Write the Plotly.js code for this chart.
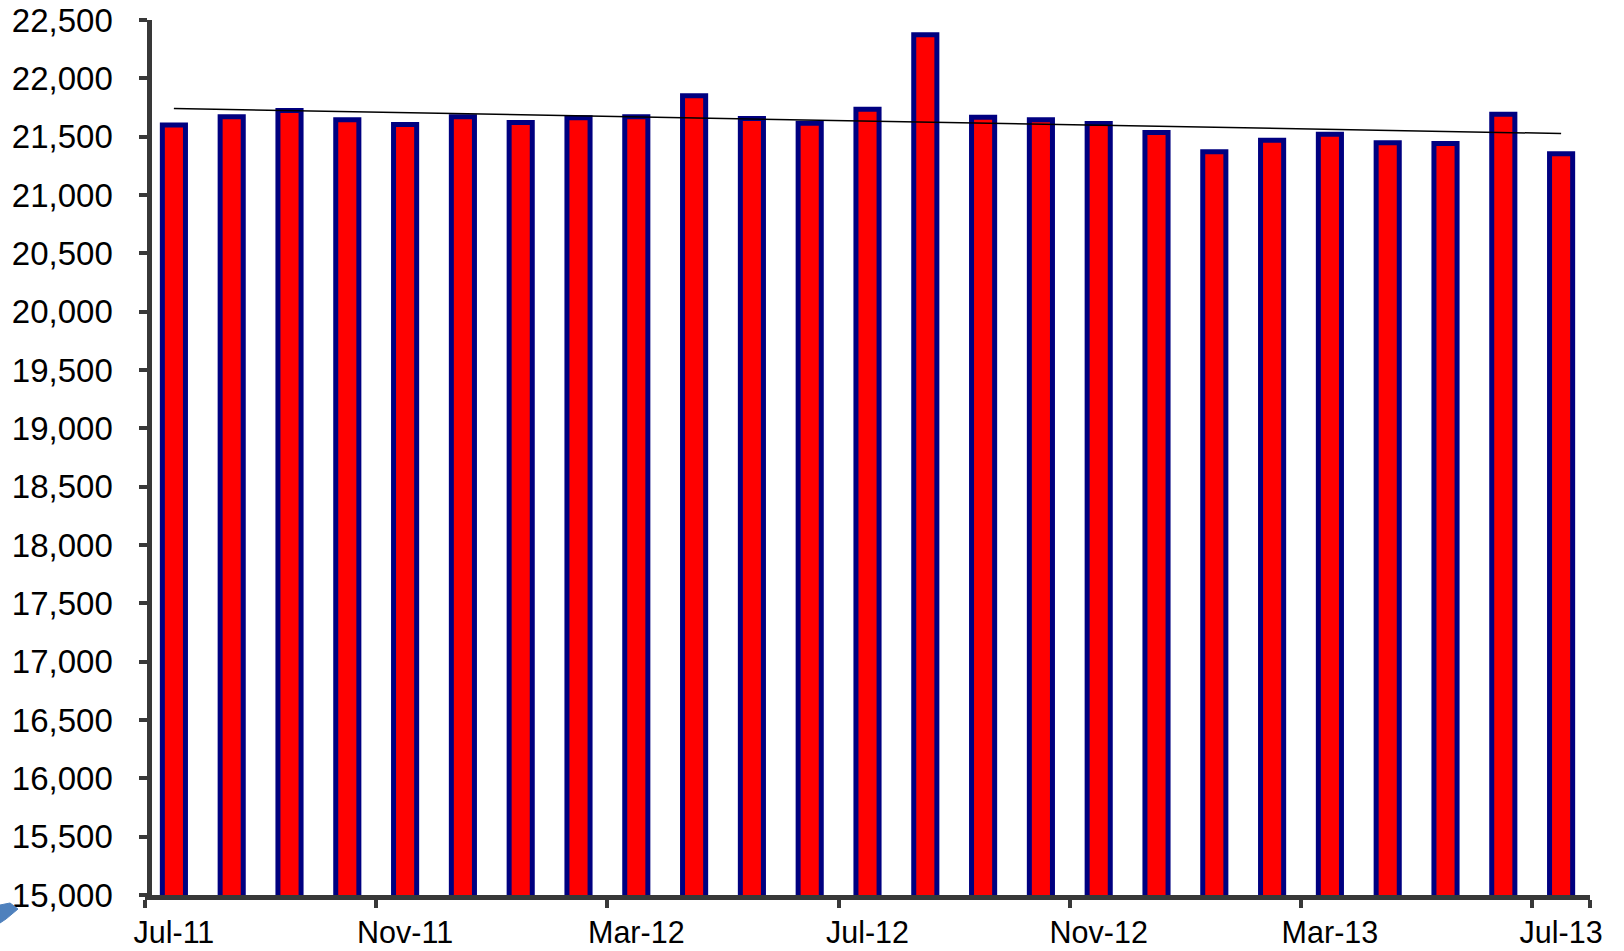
<!DOCTYPE html>
<html>
<head>
<meta charset="utf-8">
<script src="https://cdn.plot.ly/plotly-3.0.1.min.js"></script>
<style>
  html, body { margin: 0; padding: 0; background: #ffffff; }
  #chart { width: 1624px; height: 951px; }
</style>
</head>
<body>
<div id="chart"></div>
<script>
const months = ["Jul-11","Aug-11","Sep-11","Oct-11","Nov-11","Dec-11","Jan-12","Feb-12","Mar-12","Apr-12","May-12","Jun-12","Jul-12","Aug-12","Sep-12","Oct-12","Nov-12","Dec-12","Jan-13","Feb-13","Mar-13","Apr-13","May-13","Jun-13","Jul-13"];
const values = [21600,21670,21724,21644,21604,21670,21621,21662,21670,21850,21656,21615,21735,22373,21667,21644,21613,21535,21370,21470,21521,21447,21441,21692,21353];
const tickLabels = ["Jul-11","Nov-11","Mar-12","Jul-12","Nov-12","Mar-13","Jul-13"];
const yTicks = [15000,15500,16000,16500,17000,17500,18000,18500,19000,19500,20000,20500,21000,21500,22000,22500];

// Linear (least-squares) trendline fitted to the series, as in the original chart
const n = values.length;
const idx = values.map((_, i) => i);
const mx = idx.reduce((a, b) => a + b, 0) / n;
const my = values.reduce((a, b) => a + b, 0) / n;
let sxy = 0, sxx = 0;
for (let i = 0; i < n; i++) { sxy += (i - mx) * (values[i] - my); sxx += (i - mx) * (i - mx); }
const slope = sxy / sxx;
const trendY = [my + slope * (0 - mx), my + slope * (n - 1 - mx)];
const trendX = [months[0], months[n - 1]];

const font = "Liberation Sans, Arial, sans-serif";

const data = [
  {
    type: "bar",
    x: months,
    y: values,
    width: 0.4,
    marker: { color: "#FF0000", line: { color: "#000080", width: 5 } },
    hoverinfo: "x+y"
  },
  {
    type: "scatter",
    mode: "lines",
    x: trendX,
    y: trendY,
    line: { color: "#000000", width: 1.5 },
    hoverinfo: "skip"
  }
];

const PL = 145, PR = 1590, PT = 20, PB = 895;
function px(x) { return (x - PL) / (PR - PL); }
function py(y) { return (PB - y) / (PB - PT); }

const layout = {
  width: 1624,
  height: 951,
  margin: { l: PL, r: 1624 - PR, t: PT, b: 951 - PB, pad: 0 },
  paper_bgcolor: "#ffffff",
  plot_bgcolor: "#ffffff",
  showlegend: false,
  xaxis: {
    type: "category",
    categoryorder: "array",
    categoryarray: months,
    range: [-0.5, 24.5],
    tickmode: "array",
    tickvals: tickLabels,
    ticktext: tickLabels,
    tickson: "boundaries",
    tickangle: 0,
    ticks: "outside",
    ticklen: 8,
    tickwidth: 4,
    tickcolor: "#383838",
    showline: true,
    linecolor: "#383838",
    linewidth: 5,
    showgrid: false,
    zeroline: false,
    ticklabelstandoff: 6,
    tickfont: { family: font, size: 30.5, color: "#000000" }
  },
  yaxis: {
    anchor: "free",
    position: 0.003,
    range: [15000, 22500],
    tickmode: "array",
    tickvals: yTicks,
    ticktext: yTicks.map(v => v.toLocaleString("en-US")),
    ticks: "outside",
    ticklen: 8,
    tickwidth: 4,
    tickcolor: "#383838",
    showline: true,
    linecolor: "#383838",
    linewidth: 5,
    showgrid: false,
    zeroline: false,
    ticklabelstandoff: 20,
    tickfont: { family: font, size: 33, color: "#000000" }
  },
  shapes: [
    {
      type: "path",
      xref: "paper",
      yref: "paper",
      path: "M " + px(0) + "," + py(905) + " L " + px(10) + "," + py(903) + " L " + px(18) + "," + py(909) + " L " + px(6) + "," + py(919) + " L " + px(0) + "," + py(923) + " Z",
      fillcolor: "#4F81BD",
      line: { color: "#4F81BD", width: 1 },
      layer: "above"
    }
  ]
};

Plotly.newPlot("chart", data, layout, { displayModeBar: false, staticPlot: true });
</script>
</body>
</html>
